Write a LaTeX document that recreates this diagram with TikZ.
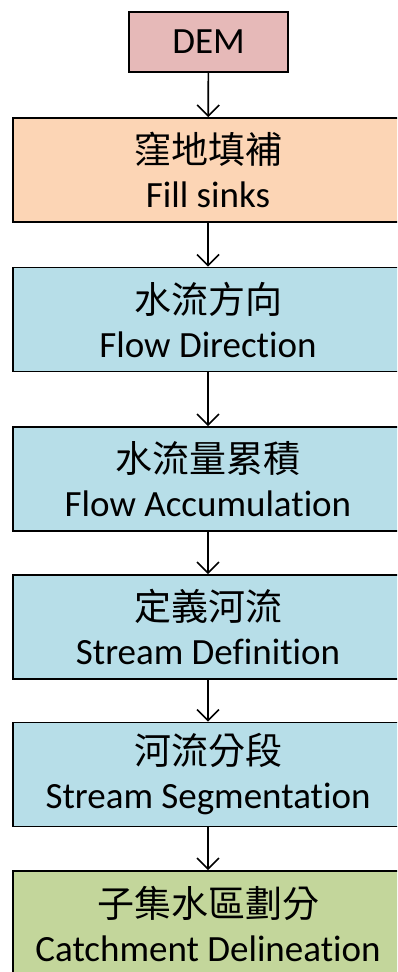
\documentclass[tikz,border=0pt]{standalone}
\usepackage{fontspec}
\setmainfont{Carlito}[Ligatures=NoCommon]
\newfontfamily\cjk{Noto Sans CJK TC}
\usetikzlibrary{arrows.meta}
\definecolor{pinkfill}{HTML}{E6B9B8}
\definecolor{orangefill}{HTML}{FCD5B5}
\definecolor{bluefill}{HTML}{B7DEE8}
\definecolor{greenfill}{HTML}{C3D69B}
\tikzset{
  stepbox/.style={draw=black, line width=1.6pt, minimum width=390pt, minimum height=104pt,
    inner sep=0pt, align=center, font=\fontsize{37}{44}\selectfont},
  demstyle/.style={draw=black, line width=1.6pt, minimum width=159pt, minimum height=60pt,
    inner sep=0pt, fill=pinkfill, font=\fontsize{37}{42}\selectfont},
  flowarrow/.style={line width=1.7pt, -{Straight Barb[length=11pt,width=22pt,line width=1.7pt]}}
}
\begin{document}
\begin{tikzpicture}[x=1pt,y=-1pt]
\path[use as bounding box, clip] (0,0) rectangle (397,972);
\fill[white] (0,0) rectangle (397,972);
\node[demstyle] (dem) at (208.5,42) {DEM};
\node[stepbox, fill=orangefill] (fill) at (208,170) {{\cjk 窪地填補}\\Fill sinks};
\node[stepbox, fill=bluefill] (fd) at (208,319.5) {{\cjk 水流方向}\\Flow Direction};
\node[stepbox, fill=bluefill] (fa) at (208,479) {{\cjk 水流量累積}\\Flow Accumulation};
\node[stepbox, fill=bluefill] (sd) at (208,627) {{\cjk 定義河流}\\Stream Definition};
\node[stepbox, fill=bluefill] (ss) at (208,774.5) {{\cjk 河流分段}\\Stream Segmentation};
\node[stepbox, fill=greenfill, minimum height=106pt] (cd) at (208,924) {{\cjk 子集水區劃分}\\Catchment Delineation};
\draw[flowarrow] (dem) -- (fill);
\draw[flowarrow] (fill) -- (fd);
\draw[flowarrow] (fd) -- (fa);
\draw[flowarrow] (fa) -- (sd);
\draw[flowarrow] (sd) -- (ss);
\draw[flowarrow] (ss) -- (cd);
\end{tikzpicture}
\end{document}
